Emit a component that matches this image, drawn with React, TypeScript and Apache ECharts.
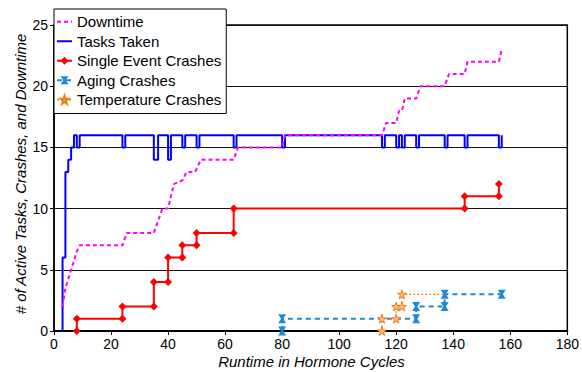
import React, { useEffect, useRef } from 'react';
import * as echarts from 'echarts';

const FONT = '"Liberation Sans", Arial, sans-serif';

// Legend order
const legendNames = ['Downtime', 'Tasks Taken', 'Single Event Crashes', 'Aging Crashes', 'Temperature Crashes'];
const lineOnlyLegend = ['Downtime', 'Tasks Taken'];

// Axis ranges / ticks
const xTicks = { min: 0, max: 180, interval: 20 };
const yTicks = { min: 0, max: 25, interval: 5 };

// Tasks Taken (runtime, active tasks)
const tasksTaken: number[][] = [
  [3, 0], [3, 6], [4, 6], [4, 13], [5, 13], [5, 14], [6, 14], [6, 15], [7, 15], [7, 16],
  [8, 16], [8, 15], [9, 15], [9, 16], [24, 16], [24, 15], [25, 15], [25, 16],
  [35, 16], [35, 14], [36.5, 14], [36.5, 16], [40, 16], [40, 14], [41, 14], [41, 16],
  [45, 16], [45, 15], [46, 15], [46, 16], [50, 16], [50, 15], [51, 15], [51, 16],
  [63, 16], [63, 15], [64, 15], [64, 16], [80, 16], [80, 15], [81, 15], [81, 16],
  [115, 16], [115, 15], [116, 15], [116, 16], [120, 16], [120, 15], [121, 15], [121, 16],
  [122, 16], [122, 15], [123, 15], [123, 16], [127, 16], [127, 15], [128, 15], [128, 16],
  [137, 16], [137, 15], [138, 15], [138, 16], [144, 16], [144, 15], [145, 15], [145, 16],
  [156, 16], [156, 15], [157, 15], [157, 16],
];

// Downtime
const downtime: number[][] = [
  [3, 2], [4, 3.5], [6, 5], [8, 6.5], [9, 7], [24, 7], [25.5, 8], [35, 8], [38, 10], [40, 10],
  [42, 12], [45, 12.3], [46.5, 13], [49.5, 13], [51.5, 14], [63, 14], [64.5, 15], [80, 15],
  [81, 16], [115, 16], [116.5, 17], [120, 17], [121, 18], [122, 18], [123, 19], [127, 19],
  [128.5, 20], [137, 20], [138.5, 21], [144, 21], [145, 22], [156, 22], [157, 23],
];

// Single Event Crashes
const singleEvent: number[][] = [
  [8, 0], [8, 1], [24, 1], [24, 2], [35, 2], [35, 4], [40, 4], [40, 6], [45, 6], [45, 7],
  [50, 7], [50, 8], [63, 8], [63, 10], [144, 10], [144, 11], [156, 11], [156, 12],
];

// Aging Crashes
const aging: number[][] = [
  [80, 0], [80, 1], [127, 1], [127, 2], [137, 2], [137, 3], [157, 3],
];

// Temperature Crashes (last point is where the dotted line meets the aging marker)
const temperature: number[][] = [
  [115, 0], [115, 1], [120, 1], [120, 2], [122, 2], [122, 3], [137, 3],
];

const HOURGLASS = 'path://M0,0L10,0L6.5,5L10,10L0,10L3.5,5Z';
const STAR = 'path://M50,0L61,35L98,35L68,57L79,91L50,70L21,91L32,57L2,35L39,35Z';

export default function App() {
  const ref = useRef<HTMLDivElement>(null);
  useEffect(() => {
    if (!ref.current) return;
    const chart = echarts.init(ref.current, null, { renderer: 'svg' });
    const tempData = temperature.map((p, i) =>
      i === temperature.length - 1 ? { value: p, symbol: 'none' } : { value: p }
    );
    chart.setOption({
      animation: false,
      backgroundColor: '#fff',
      grid: {
        left: 54, right: 13, top: 25, bottom: 41,
        show: true, borderColor: '#000', borderWidth: 1.5,
      },
      legend: {
        data: legendNames.map((n) =>
          lineOnlyLegend.includes(n) ? { name: n, itemStyle: { opacity: 0 } } : { name: n }
        ),
        left: 54, top: 9, orient: 'vertical',
        itemWidth: 15, itemHeight: 10, itemGap: 0,
        padding: [3, 5, 4, 2],
        borderColor: '#000', borderWidth: 1, backgroundColor: '#fff',
        textStyle: { fontFamily: FONT, fontSize: 15, color: '#000', lineHeight: 19.5 },
        z: 10,
      },
      xAxis: {
        type: 'value', ...xTicks,
        axisLine: { lineStyle: { color: '#000', width: 2 } },
        axisTick: { show: true, length: 4, lineStyle: { color: '#000' } },
        axisLabel: { fontFamily: FONT, fontSize: 14, color: '#000', margin: 6 },
        splitLine: { show: false },
      },
      yAxis: {
        type: 'value', ...yTicks,
        axisLine: { show: true, lineStyle: { color: '#000', width: 1.5 } },
        axisTick: { show: true, length: 4, lineStyle: { color: '#000' } },
        axisLabel: { fontFamily: FONT, fontSize: 14, color: '#000', margin: 6 },
        splitLine: { show: true, lineStyle: { color: '#111', width: 1 } },
      },
      graphic: [
        {
          type: 'text', x: 20, y: 174, rotation: Math.PI / 2,
          style: {
            text: '# of Active Tasks, Crashes, and Downtime',
            font: `italic 15px ${FONT}`, fill: '#000',
            textAlign: 'center', textVerticalAlign: 'middle',
            align: 'center', verticalAlign: 'middle',
          },
        },
        {
          type: 'text', x: 311.5, y: 361,
          style: {
            text: 'Runtime in Hormone Cycles',
            font: `italic 15px ${FONT}`, fill: '#000',
            textAlign: 'center', textVerticalAlign: 'middle',
            align: 'center', verticalAlign: 'middle',
          },
        },
      ],
      series: [
        {
          name: 'Tasks Taken', type: 'line', data: tasksTaken, symbol: 'none',
          lineStyle: { color: '#0000ff', width: 2 }, itemStyle: { color: '#0000ff' },
        },
        {
          name: 'Downtime', type: 'line', data: downtime, symbol: 'none',
          lineStyle: { color: '#ff00ff', width: 2, type: [4, 3] }, itemStyle: { color: '#ff00ff' },
        },
        {
          name: 'Single Event Crashes', type: 'line', data: singleEvent,
          symbol: 'diamond', symbolSize: 8,
          lineStyle: { color: '#ff0000', width: 2 }, itemStyle: { color: '#ff0000' },
        },
        {
          name: 'Aging Crashes', type: 'line', data: aging,
          symbol: HOURGLASS, symbolSize: [8, 9],
          lineStyle: { color: '#1e8ad6', width: 2, type: [5, 4] }, itemStyle: { color: '#1e8ad6' },
        },
        {
          name: 'Temperature Crashes', type: 'line', data: tempData,
          symbol: STAR, symbolSize: 9,
          lineStyle: { color: '#f28c28', width: 1.2, type: [2, 2] },
          itemStyle: { color: '#ffbf80', borderColor: '#f07c12', borderWidth: 1 },
        },
      ],
    });
    return () => chart.dispose();
  }, []);
  return <div ref={ref} style={{ position: 'absolute', left: 0, top: 0, width: 582, height: 372 }} />;
}
